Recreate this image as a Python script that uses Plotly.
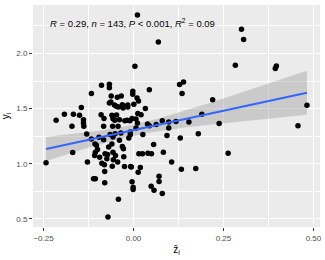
import numpy as np
import plotly.graph_objects as go

# Data (z-hat_i, y_i)
z_hat = [
    0.011, 0.069, 0.300, 0.306, 0.283, 0.394, 0.397, 0.004,
    -0.117, -0.089, -0.067, -0.067, -0.062, -0.045, -0.034, -0.002, -0.002, 0.010, 0.044, 0.128, 0.139, 0.135, 0.220, -0.067, -0.063,
    -0.053, -0.048, -0.042, -0.031, -0.029, -0.016, -0.016, 0.001, 0.014, 0.033, -0.145, 0.482,
    -0.167, -0.192, -0.150, -0.215, -0.090, -0.139, -0.139, -0.138, -0.171, -0.057, -0.047, -0.052, -0.039, -0.082, -0.060,
    -0.058, -0.043, -0.083, -0.018, -0.010, -0.024, -0.004, 0.007, 0.011, 0.007, 0.012, 0.021,
    0.118, 0.098, 0.098, 0.080, 0.063, 0.039, 0.044, 0.154, 0.190, 0.238, 0.457,
    0.180, 0.130, 0.093, 0.056, 0.083, 0.040, 0.050, 0.025, 0.015, 0.026, 0.263, 0.106, -0.009, -0.009,
    0.133, 0.173, 0.071, 0.071, 0.049, 0.057, 0.080, 0.019, 0.013, -0.004, -0.001, -0.001, -0.006,
    -0.243, -0.169, -0.128, -0.111, -0.106, -0.080, -0.042, -0.071, -0.080, -0.130, -0.117, -0.107,
    -0.103, -0.100, -0.106, -0.108, -0.094, -0.088, -0.081, -0.079, -0.072, -0.074, -0.096, -0.083,
    -0.065, -0.057, -0.051, -0.060, -0.057, -0.056, -0.059, -0.050, -0.044, -0.039, -0.035, -0.031,
    -0.028, -0.027, -0.025, -0.013, -0.008, -0.069,
]
y_i = [
    2.348, 2.105, 2.220, 2.127, 1.894, 1.864, 1.887, 1.885,
    1.636, 1.712, 1.720, 1.690, 1.615, 1.603, 1.615, 1.657, 1.630, 1.597, 1.670, 1.718, 1.742, 1.636, 1.580, 1.551, 1.560,
    1.533, 1.521, 1.515, 1.536, 1.505, 1.533, 1.515, 1.540, 1.570, 1.500, 1.509, 1.530,
    1.450, 1.448, 1.440, 1.394, 1.445, 1.400, 1.370, 1.340, 1.340, 1.409, 1.442, 1.394, 1.400, 1.410, 1.440,
    1.339, 1.339, 1.339, 1.394, 1.390, 1.390, 1.410, 1.405, 1.369, 1.324, 1.455, 1.445,
    1.382, 1.378, 1.324, 1.390, 1.355, 1.360, 1.345, 1.378, 1.448, 1.364, 1.345,
    1.273, 1.233, 1.257, 1.175, 1.105, 1.095, 1.090, 1.090, 1.090, 1.265, 1.095, 1.015, 1.287, 1.264,
    0.951, 0.957, 0.887, 0.839, 0.797, 0.760, 0.730, 0.966, 0.924, 0.836, 0.787, 0.766, 0.970,
    1.009, 1.103, 1.015, 0.864, 0.864, 0.827, 0.678, 0.518, 0.930, 1.270, 1.224, 1.180,
    1.167, 1.130, 1.105, 1.075, 1.060, 1.005, 0.990, 1.090, 1.085, 1.045, 1.240, 1.218,
    1.266, 1.242, 1.273, 1.180, 1.105, 1.036, 0.978, 1.075, 1.015, 1.212, 1.278, 1.157,
    1.136, 1.064, 0.976, 1.233, 0.976, 1.151,
]
x_ticks = [-0.25, 0.0, 0.25, 0.5]
x_tick_labels = ["\u22120.25", "0.00", "0.25", "0.50"]
y_ticks = [0.5, 1.0, 1.5, 2.0]
y_tick_labels = ["0.5", "1.0", "1.5", "2.0"]
stats_label = "<i>R</i> = 0.29, <i>n</i> = 143, <i>P</i> &lt; 0.001, <i>R</i><sup>2</sup> = 0.09"

x = np.array(z_hat)
y = np.array(y_i)
n = len(x)

# linear fit with 95% confidence band (as geom_smooth(method = "lm"))
b, a = np.polyfit(x, y, 1)
resid = y - (a + b * x)
s = np.sqrt(np.sum(resid ** 2) / (n - 2))
sxx = np.sum((x - x.mean()) ** 2)
t_crit = 1.977
xf = np.linspace(x.min(), x.max(), 80)
yf = a + b * xf
se = s * np.sqrt(1 / n + (xf - x.mean()) ** 2 / sxx)
lo, hi = yf - t_crit * se, yf + t_crit * se

xr = x.max() - x.min()
yr = y.max() - y.min()

FONT = "Liberation Sans, Arial, sans-serif"

fig = go.Figure()
fig.add_trace(go.Scatter(
    x=np.concatenate([xf, xf[::-1]]), y=np.concatenate([hi, lo[::-1]]),
    fill="toself", fillcolor="rgba(153,153,153,0.4)", line=dict(width=0),
    mode="lines", hoverinfo="skip"))
fig.add_trace(go.Scatter(x=x, y=y, mode="markers",
                         marker=dict(color="black", size=5.5, line=dict(width=0))))
fig.add_trace(go.Scatter(x=xf, y=yf, mode="lines",
                         line=dict(color="#3366FF", width=2)))

axis_common = dict(
    automargin=False,
    showgrid=True, gridcolor="white", gridwidth=1,
    zeroline=False, showline=False,
    ticks="outside", ticklen=3, tickcolor="#333333", tickwidth=1,
    tickfont=dict(family=FONT, size=8, color="#4D4D4D"),
)
fig.update_xaxes(
    range=[x.min() - 0.05 * xr, x.max() + 0.05 * xr],
    tickvals=x_ticks, ticktext=x_tick_labels,
    minor=dict(dtick=0.125, tick0=0, showgrid=True, gridcolor="white", gridwidth=0.5, ticks=""),
    title=dict(text="\u1e91<sub>i</sub>", font=dict(family=FONT, size=10, color="black"), standoff=4),
    **axis_common)
fig.update_yaxes(
    range=[y.min() - 0.05 * yr, y.max() + 0.05 * yr],
    tickvals=y_ticks, ticktext=y_tick_labels,
    minor=dict(dtick=0.25, tick0=0, showgrid=True, gridcolor="white", gridwidth=0.5, ticks=""),
    title=dict(text="y<sub>i</sub>", font=dict(family=FONT, size=10, color="black"), standoff=4),
    **axis_common)

fig.add_annotation(
    xref="paper", yref="paper", x=0.051, y=0.92, xanchor="left", yanchor="middle",
    text=stats_label, showarrow=False,
    font=dict(family=FONT, size=9.5, color="black"))

fig.update_layout(
    width=325, height=260, showlegend=False,
    margin=dict(l=33, r=5, t=5, b=33),
    plot_bgcolor="#EBEBEB", paper_bgcolor="white",
)
fig.write_html("out.html", config={"displayModeBar": False},
               post_script="document.body.style.margin='0px';document.body.style.overflow='hidden';")
